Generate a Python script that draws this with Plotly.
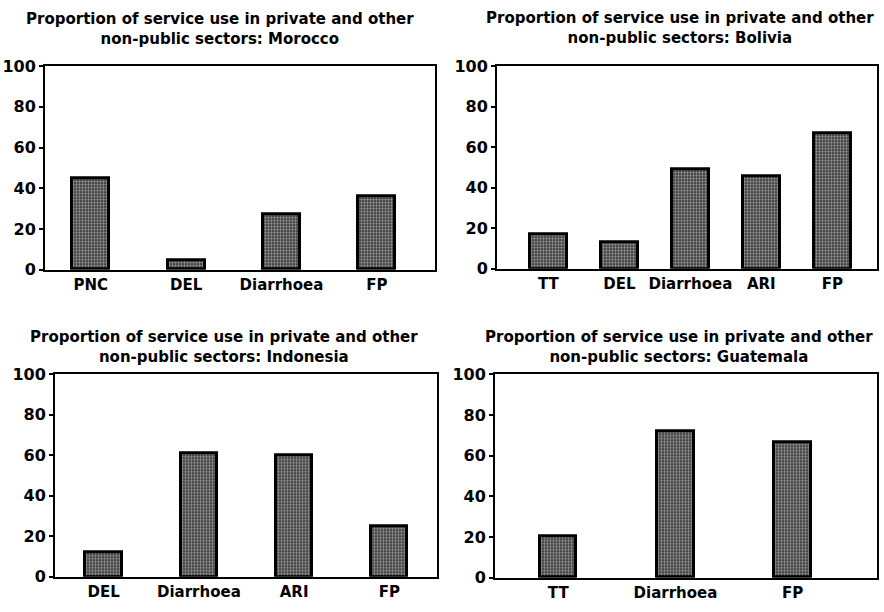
import plotly.graph_objects as go

# Share of service use in private and other non-public sectors (%)
morocco_cats = ["PNC", "DEL", "Diarrhoea", "FP"]
morocco_vals = [45, 4.5, 27.5, 36]

bolivia_cats = ["TT", "DEL", "Diarrhoea", "ARI", "FP"]
bolivia_vals = [17, 13, 49, 45.5, 67]

indonesia_cats = ["DEL", "Diarrhoea", "ARI", "FP"]
indonesia_vals = [12, 61, 60, 25]

guatemala_cats = ["TT", "Diarrhoea", "FP"]
guatemala_vals = [20.5, 72, 66.5]

y_ticks = [0, 20, 40, 60, 80, 100]

W, H = 884, 612
FONT = "DejaVu Sans"

# panel layout in pixels: (left, right, top, bottom, x-range, bar width, title centre x, title centre y)
panels = [
    ("Morocco", morocco_cats, morocco_vals, (45, 435, 59, 269), (-0.48, 3.61), 0.39, 220, 21),
    ("Bolivia", bolivia_cats, bolivia_vals, (497, 877, 59, 268), (-0.725, 4.63), 0.52, 680, 20),
    ("Indonesia", indonesia_cats, indonesia_vals, (55, 437, 377, 586), (-0.51, 3.5), 0.38, 224, 349),
    ("Guatemala", guatemala_cats, guatemala_vals, (495, 877, 377, 587), (-0.54, 2.72), 0.31, 679, 349),
]

fig = go.Figure()
annotations = []

for i, (country, cats, vals, (l, r, t, b), xr, bw, tcx, tcy) in enumerate(panels, start=1):
    xa = "x" if i == 1 else f"x{i}"
    ya = "y" if i == 1 else f"y{i}"
    fig.add_trace(go.Bar(
        x=list(range(len(cats))), y=vals, width=bw,
        xaxis=xa, yaxis=ya, showlegend=False,
        marker=dict(
            color="#2b2b2b",
            line=dict(color="black", width=3),
            pattern=dict(shape=".", size=3, solidity=0.5, fgcolor="white", bgcolor="#2b2b2b"),
        ),
    ))
    axis_common = dict(showline=True, linecolor="black", linewidth=2, mirror=True,
                       showgrid=False, zeroline=False)
    fig.update_layout(**{
        ("xaxis" if i == 1 else f"xaxis{i}"): dict(
            domain=[l / W, r / W], anchor=ya, range=list(xr),
            tickmode="array", tickvals=list(range(len(cats))), ticktext=cats,
            ticks="", tickfont=dict(family=FONT, size=15, color="black", weight="bold"),
            **axis_common),
        ("yaxis" if i == 1 else f"yaxis{i}"): dict(
            domain=[1 - b / H, 1 - t / H], anchor=xa, range=[0, 100],
            tickmode="array", tickvals=y_ticks,
            ticks="outside", ticklen=4, tickwidth=2, tickcolor="black",
            tickfont=dict(family=FONT, size=16, color="black", weight="bold"),
            **axis_common),
    })
    annotations.append(dict(
        text=f"Proportion of service use in private and other<br>non-public sectors: {country}",
        x=tcx / W, y=1 - tcy / H, xref="paper", yref="paper",
        xanchor="center", yanchor="middle", showarrow=False, align="center",
        font=dict(family=FONT, size=15, color="black", weight="bold")))

fig.update_layout(
    width=W, height=H, margin=dict(l=0, r=0, t=0, b=0),
    paper_bgcolor="white", plot_bgcolor="white",
    bargap=0, annotations=annotations,
)

fig.write_html("out.html")
